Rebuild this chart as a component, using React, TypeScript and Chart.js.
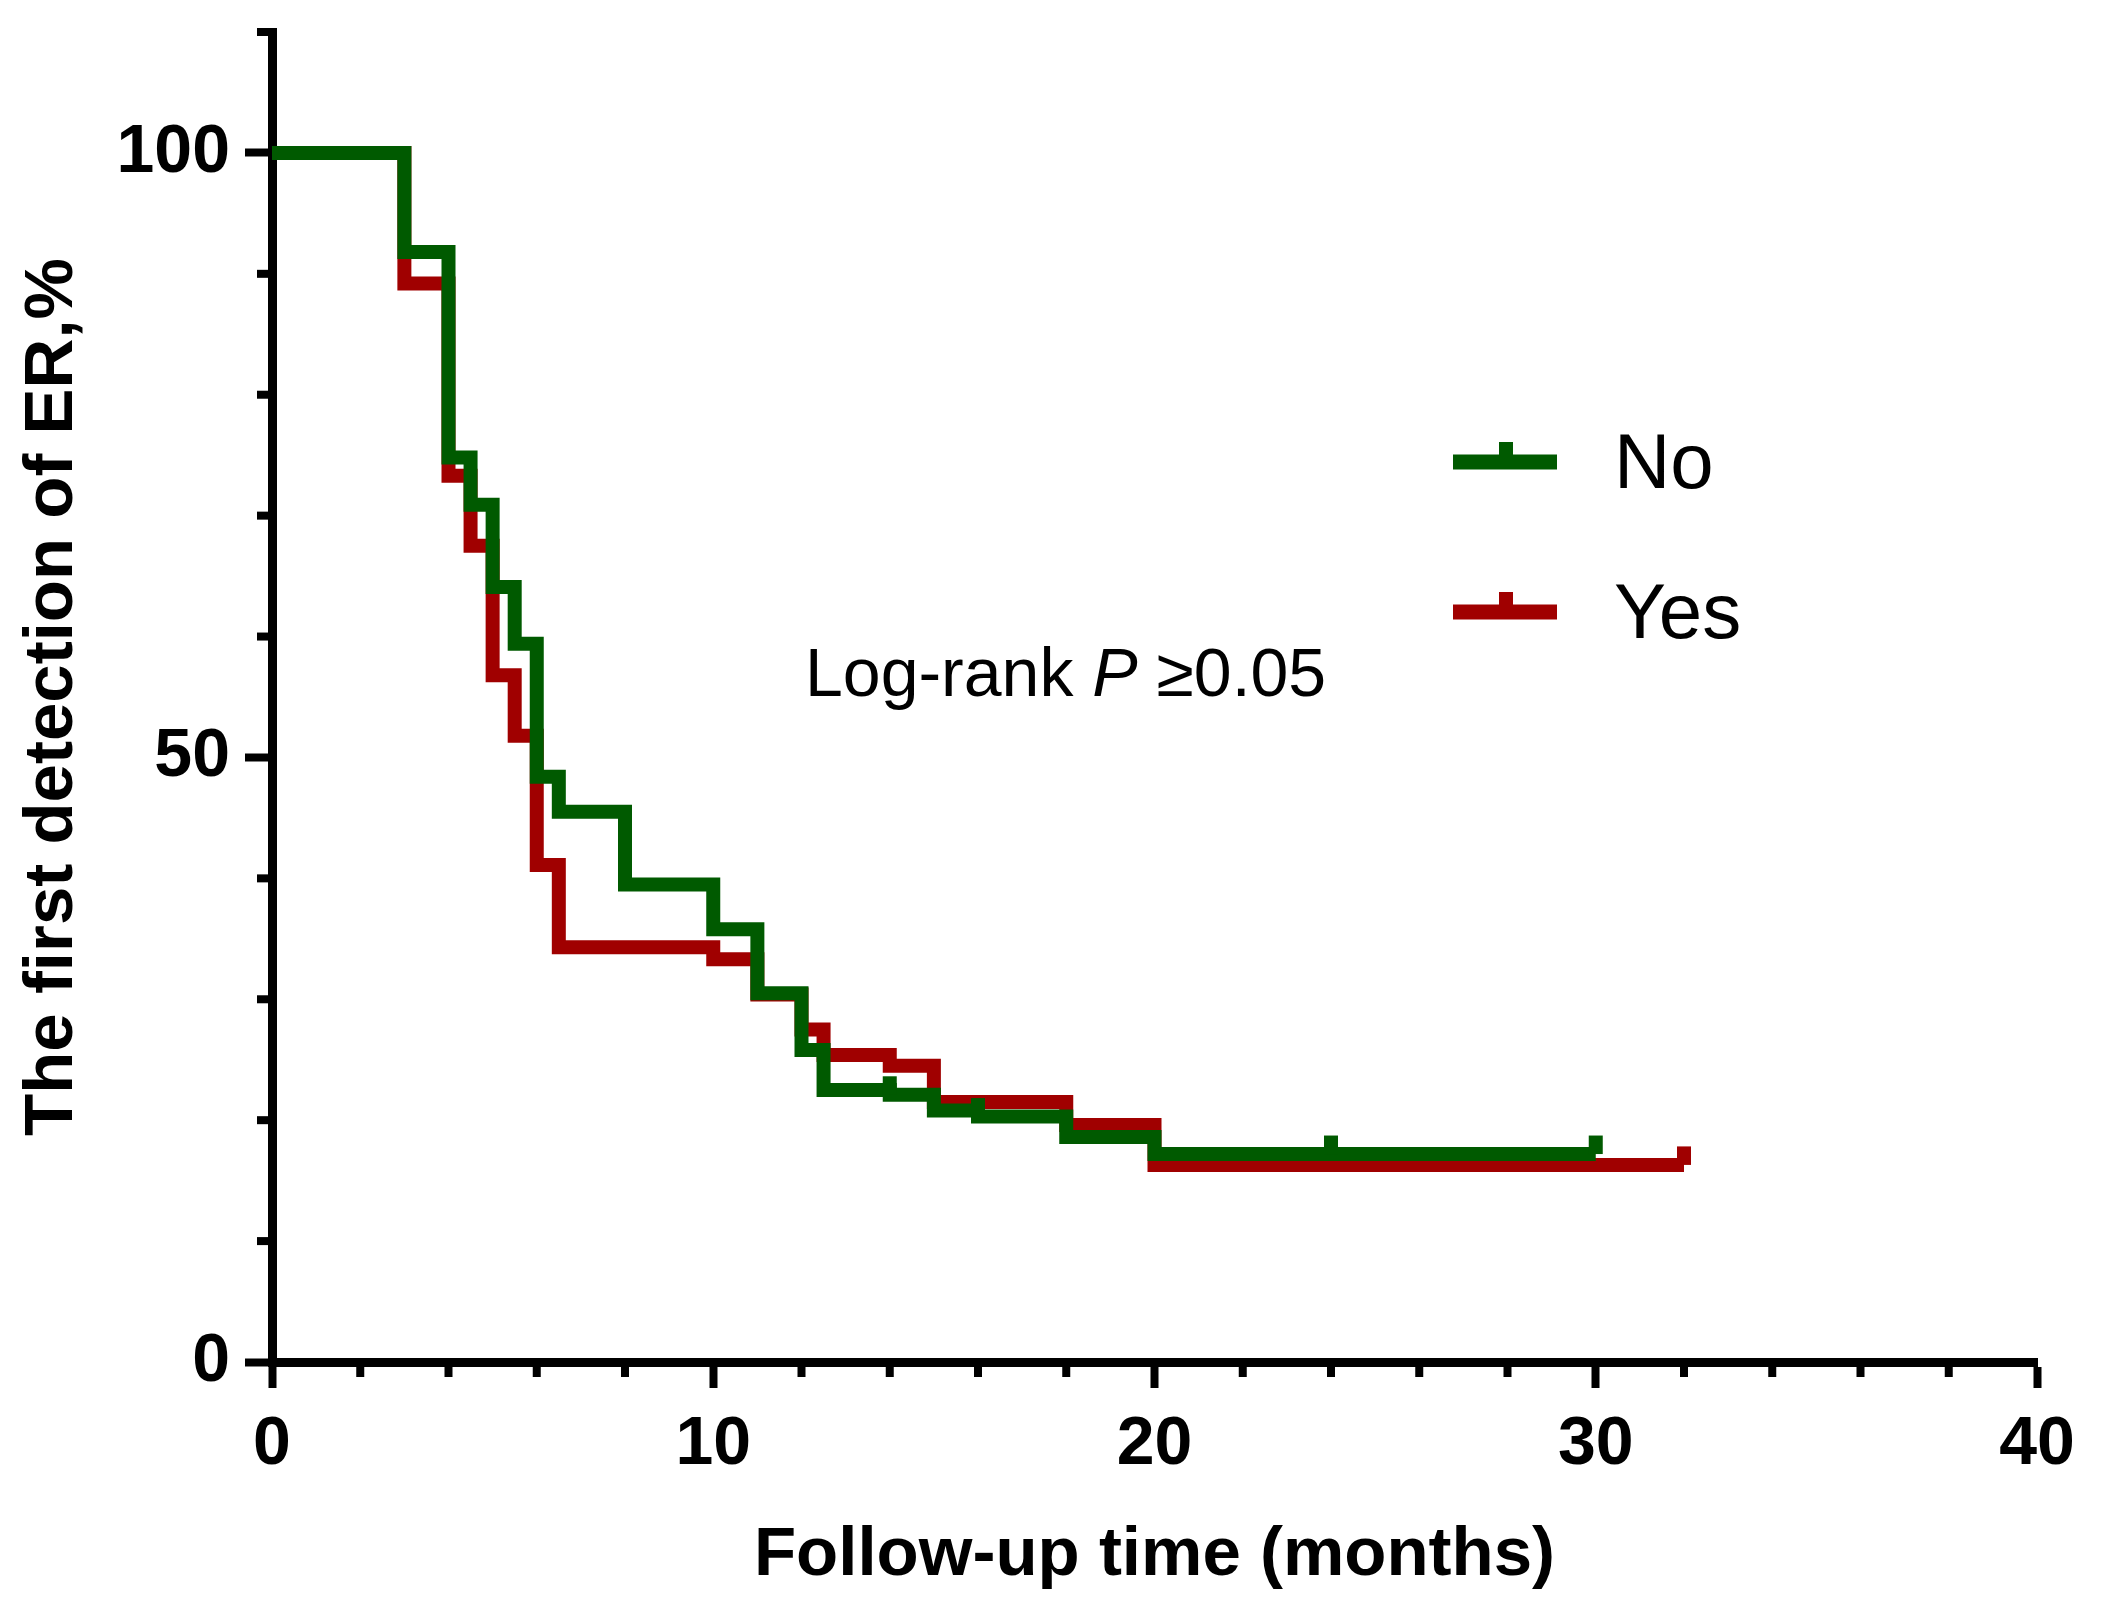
import { useEffect, useRef } from 'react';
import { Chart, registerables, Plugin } from 'chart.js';

Chart.register(...registerables);

const W = 2101;
const H = 1613;
const FONT = '"Liberation Sans", Arial, sans-serif';
const GREEN = '#005a00';
const RED = '#a00000';

// Kaplan-Meier steps (months, %)
const noTimes = [0, 3, 4, 4.5, 5, 5.5, 6, 6.5, 8, 10, 11, 12, 12.5, 14, 15, 16, 18, 20, 30];
const noValues = [100, 91.8, 74.8, 70.9, 64.1, 59.4, 48.4, 45.5, 39.5, 35.8, 30.5, 25.8, 22.5, 22.1, 20.8, 20.3, 18.6, 17.2, 17.2];
const yesTimes = [0, 3, 4, 4.5, 5, 5.5, 6, 6.5, 10, 11, 12, 12.5, 14, 15, 18, 20, 32];
const yesValues = [100, 89.2, 73.3, 67.5, 56.8, 51.8, 41.1, 34.3, 33.3, 30.4, 27.5, 25.4, 24.5, 21.5, 19.6, 16.3, 16.3];

// censored observations
const noCensorTimes = [14, 16, 24, 30];
const noCensorValues = [22.1, 20.3, 17.2, 17.2];
const yesCensorTimes = [32];
const yesCensorValues = [16.3];

const xTicks = [0, 10, 20, 30, 40];
const yTicks = [0, 50, 100];

const toPoints = (xs: number[], ys: number[]) => xs.map((x, i) => ({ x, y: ys[i] }));

// short ticks between the labelled ones
const minorTicks: Plugin<'line'> = {
  id: 'minorTicks',
  afterDraw(chart) {
    const { ctx } = chart;
    const x = chart.scales.x;
    const y = chart.scales.y;
    ctx.save();
    ctx.fillStyle = '#000';
    x.ticks.forEach((t) => {
      if (xTicks.includes(t.value)) return;
      const px = x.getPixelForValue(t.value);
      ctx.fillRect(px - 4, x.top, 8, 15);
    });
    y.ticks.forEach((t) => {
      if (yTicks.includes(t.value)) return;
      const py = y.getPixelForValue(t.value);
      ctx.fillRect(y.right - 15, py - 4, 15, 8);
    });
    ctx.restore();
  },
};

const censorMarks: Plugin<'line'> = {
  id: 'censorMarks',
  afterDatasetsDraw(chart) {
    const { ctx } = chart;
    const x = chart.scales.x;
    const y = chart.scales.y;
    const draw = (ts: number[], vs: number[], color: string) => {
      ctx.fillStyle = color;
      ts.forEach((t, i) => {
        const px = x.getPixelForValue(t);
        const py = y.getPixelForValue(vs[i]);
        ctx.fillRect(px - 7, py - 18.5, 14, 18.5);
      });
    };
    ctx.save();
    draw(yesCensorTimes, yesCensorValues, RED);
    draw(noCensorTimes, noCensorValues, GREEN);
    ctx.restore();
  },
};

const legendAndNote: Plugin<'line'> = {
  id: 'legendAndNote',
  afterDraw(chart) {
    const { ctx } = chart;
    ctx.save();
    const item = (color: string, cy: number, label: string) => {
      ctx.fillStyle = color;
      ctx.fillRect(1453, cy - 7.5, 104, 15);
      ctx.fillRect(1499, cy - 20, 14, 20);
      ctx.fillStyle = '#000';
      ctx.font = `78px ${FONT}`;
      ctx.textBaseline = 'alphabetic';
      ctx.fillText(label, 1614, cy + 26);
    };
    item(GREEN, 462, 'No');
    item(RED, 612, 'Yes');

    // Log-rank P ≥0.05
    ctx.fillStyle = '#000';
    ctx.textBaseline = 'alphabetic';
    let tx = 805;
    const ty = 696;
    ctx.font = `68px ${FONT}`;
    ctx.fillText('Log-rank ', tx, ty);
    tx += ctx.measureText('Log-rank ').width;
    ctx.font = `italic 68px ${FONT}`;
    ctx.fillText('P', tx, ty);
    tx += ctx.measureText('P').width;
    ctx.font = `68px ${FONT}`;
    ctx.fillText(' \u22650.05', tx, ty);
    ctx.restore();
  },
};

const SurvivalChart = () => {
  const chartRef = useRef<HTMLCanvasElement | null>(null);

  useEffect(() => {
    if (!chartRef.current) return;
    const ctx = chartRef.current.getContext('2d');
    if (!ctx) return;

    Chart.defaults.font.family = FONT;
    Chart.defaults.color = '#000';

    const chartInstance = new Chart(ctx, {
      type: 'line',
      data: {
        datasets: [
          {
            label: 'No',
            data: toPoints(noTimes, noValues),
            borderColor: GREEN,
            borderWidth: 14,
            stepped: 'before',
            pointRadius: 0,
            fill: false,
          },
          {
            label: 'Yes',
            data: toPoints(yesTimes, yesValues),
            borderColor: RED,
            borderWidth: 14,
            stepped: 'before',
            pointRadius: 0,
            fill: false,
          },
        ],
      },
      options: {
        responsive: false,
        animation: false,
        devicePixelRatio: 1,
        layout: { padding: { left: 0, top: 32, right: 64, bottom: 0 } },
        plugins: {
          legend: { display: false },
          tooltip: { enabled: false },
        },
        scales: {
          x: {
            type: 'linear',
            min: 0,
            max: 40,
            ticks: {
              stepSize: 2,
              autoSkip: false,
              maxRotation: 0,
              padding: 16,
              color: '#000',
              font: { size: 68, weight: 'bold' },
              callback: (v) => (xTicks.includes(Number(v)) ? String(v) : ''),
            },
            grid: {
              drawOnChartArea: false,
              drawTicks: true,
              tickLength: 26,
              tickWidth: 8,
              tickColor: (c) => (xTicks.includes(c.tick.value) ? '#000' : 'rgba(0,0,0,0)'),
            },
            border: { display: true, width: 9, color: '#000' },
            title: {
              display: true,
              text: 'Follow-up time (months)',
              color: '#000',
              font: { size: 69, weight: 'bold' },
              padding: { top: 0, bottom: 16 },
            },
            afterFit: (s) => {
              s.height = H - 1362;
              s.paddingLeft = 0;
              s.paddingRight = 0;
            },
          },
          y: {
            type: 'linear',
            min: 0,
            max: 110,
            ticks: {
              stepSize: 10,
              autoSkip: false,
              padding: 15,
              color: '#000',
              font: { size: 68, weight: 'bold' },
              callback: (v) => (yTicks.includes(Number(v)) ? String(v) : ''),
            },
            grid: {
              drawOnChartArea: false,
              drawTicks: true,
              tickLength: 27,
              tickWidth: 8,
              tickColor: (c) => (yTicks.includes(c.tick.value) ? '#000' : 'rgba(0,0,0,0)'),
            },
            border: { display: true, width: 9, color: '#000' },
            title: {
              display: true,
              text: 'The first detection of ER,%',
              color: '#000',
              font: { size: 69, weight: 'bold' },
              padding: { top: 12, bottom: 0 },
            },
            afterFit: (s) => {
              s.width = 272;
              s.paddingTop = 0;
              s.paddingBottom = 0;
            },
          },
        },
      },
      plugins: [censorMarks, minorTicks, legendAndNote],
    });

    return () => {
      chartInstance.destroy();
    };
  }, []);

  return (
    <div style={{ position: 'fixed', left: 0, top: 0, width: W, height: H, background: '#fff' }}>
      <canvas ref={chartRef} width={W} height={H} style={{ width: W, height: H }}></canvas>
    </div>
  );
};

export default function App() {
  return <SurvivalChart />;
}
